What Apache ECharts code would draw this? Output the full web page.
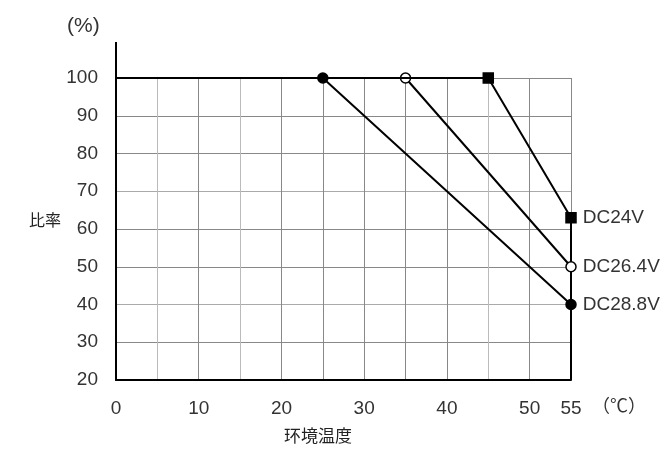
<!DOCTYPE html>
<html><head><meta charset="utf-8">
<script src="https://cdn.jsdelivr.net/npm/echarts@6/dist/echarts.min.js"></script>
<style>html,body{margin:0;padding:0;background:#fff}#c{width:670px;height:454px}</style>
</head><body><div id="c"></div>
<script>
// Data
const seriesNames = ['DC24V', 'DC26.4V', 'DC28.8V'];
const xStart = [0, 0, 0];
const kneeX = [45, 35, 25];
const kneeY = [100, 100, 100];
const endX = [55, 55, 55];
const endY = [63, 50, 40];
const markerSymbols = ['rect', 'circle', 'circle'];
const markerFills = ['#000', '#fff', '#000'];
const dropX = [55, 55];
const dropY = [63, 20];
const xTickLabels = [0, 10, 20, 30, 40, 50, 55];
const yTickLabels = [20, 30, 40, 50, 60, 70, 80, 90, 100];

const FONT = '"Liberation Sans", Arial, sans-serif';
const CJK = '"Noto Sans CJK JP", sans-serif';
const chart = echarts.init(document.getElementById('c'));

const series = seriesNames.map((name, i) => ({
  name: name,
  type: 'line',
  z: 5 - i,
  lineStyle: { color: '#000', width: 2 },
  itemStyle: { color: markerFills[i], borderColor: '#000', borderWidth: 1.5 },
  symbol: markerSymbols[i],
  symbolSize: 10,
  animation: false,
  data: [
    { value: [xStart[i], 100], symbol: 'none' },
    { value: [kneeX[i], kneeY[i]] },
    { value: [endX[i], endY[i]],
      label: { show: true, position: 'right', distance: 6, formatter: name,
               color: '#333', fontSize: 19, fontFamily: FONT } }
  ]
}));
series.push({
  name: 'drop', type: 'line', symbol: 'none', animation: false, z: 1,
  lineStyle: { color: '#000', width: 2 },
  data: dropX.map((x, i) => [x, dropY[i]])
});

const vColors = ['#888','#bbb','#888','#bbb','#888','#888','#888','#888','#888','#bbb','#888','#888'];
const hColors = ['#888','#888','#aaa','#888','#888','#aaa','#888','#888','#888'];

chart.setOption({
  animation: false,
  grid: { left: 116, right: 99, top: 78, bottom: 74 },
  xAxis: {
    type: 'value', min: 0, max: 55, interval: 5,
    axisLine: { show: true, onZero: false, lineStyle: { color: '#000', width: 2 } },
    axisTick: { show: false },
    axisLabel: {
      margin: 19, color: '#333', fontSize: 19, fontFamily: FONT,
      formatter: v => xTickLabels.indexOf(v) >= 0 ? String(v) : ''
    },
    splitLine: { show: true, lineStyle: { color: vColors, width: 1 } }
  },
  yAxis: {
    type: 'value', min: 20, max: 100, interval: 10,
    axisLine: { show: true, onZero: false, lineStyle: { color: '#000', width: 2 } },
    axisTick: { show: false },
    axisLabel: {
      margin: 18, color: '#333', fontSize: 19, fontFamily: FONT,
      formatter: v => yTickLabels.indexOf(v) >= 0 ? String(v) : ''
    },
    splitLine: { show: true, lineStyle: { color: hColors, width: 1 } }
  },
  graphic: [
    { type: 'line', shape: { x1: 116, y1: 42, x2: 116, y2: 79 }, style: { stroke: '#000', lineWidth: 2 } },
    { type: 'text', left: 67, top: 16, style: { text: '(%)', fill: '#333', font: '21px ' + FONT } },
    { type: 'text', left: 29, top: 212, style: { text: '比率', fill: '#222', font: '16px ' + CJK } },
    { type: 'text', left: 284, top: 427, style: { text: '环境温度', fill: '#222', font: '17px ' + CJK } },
    { type: 'text', left: 592, top: 396, style: { text: '（℃）', fill: '#333', font: '18px ' + CJK } }
  ],
  series: series
});
</script></body></html>
